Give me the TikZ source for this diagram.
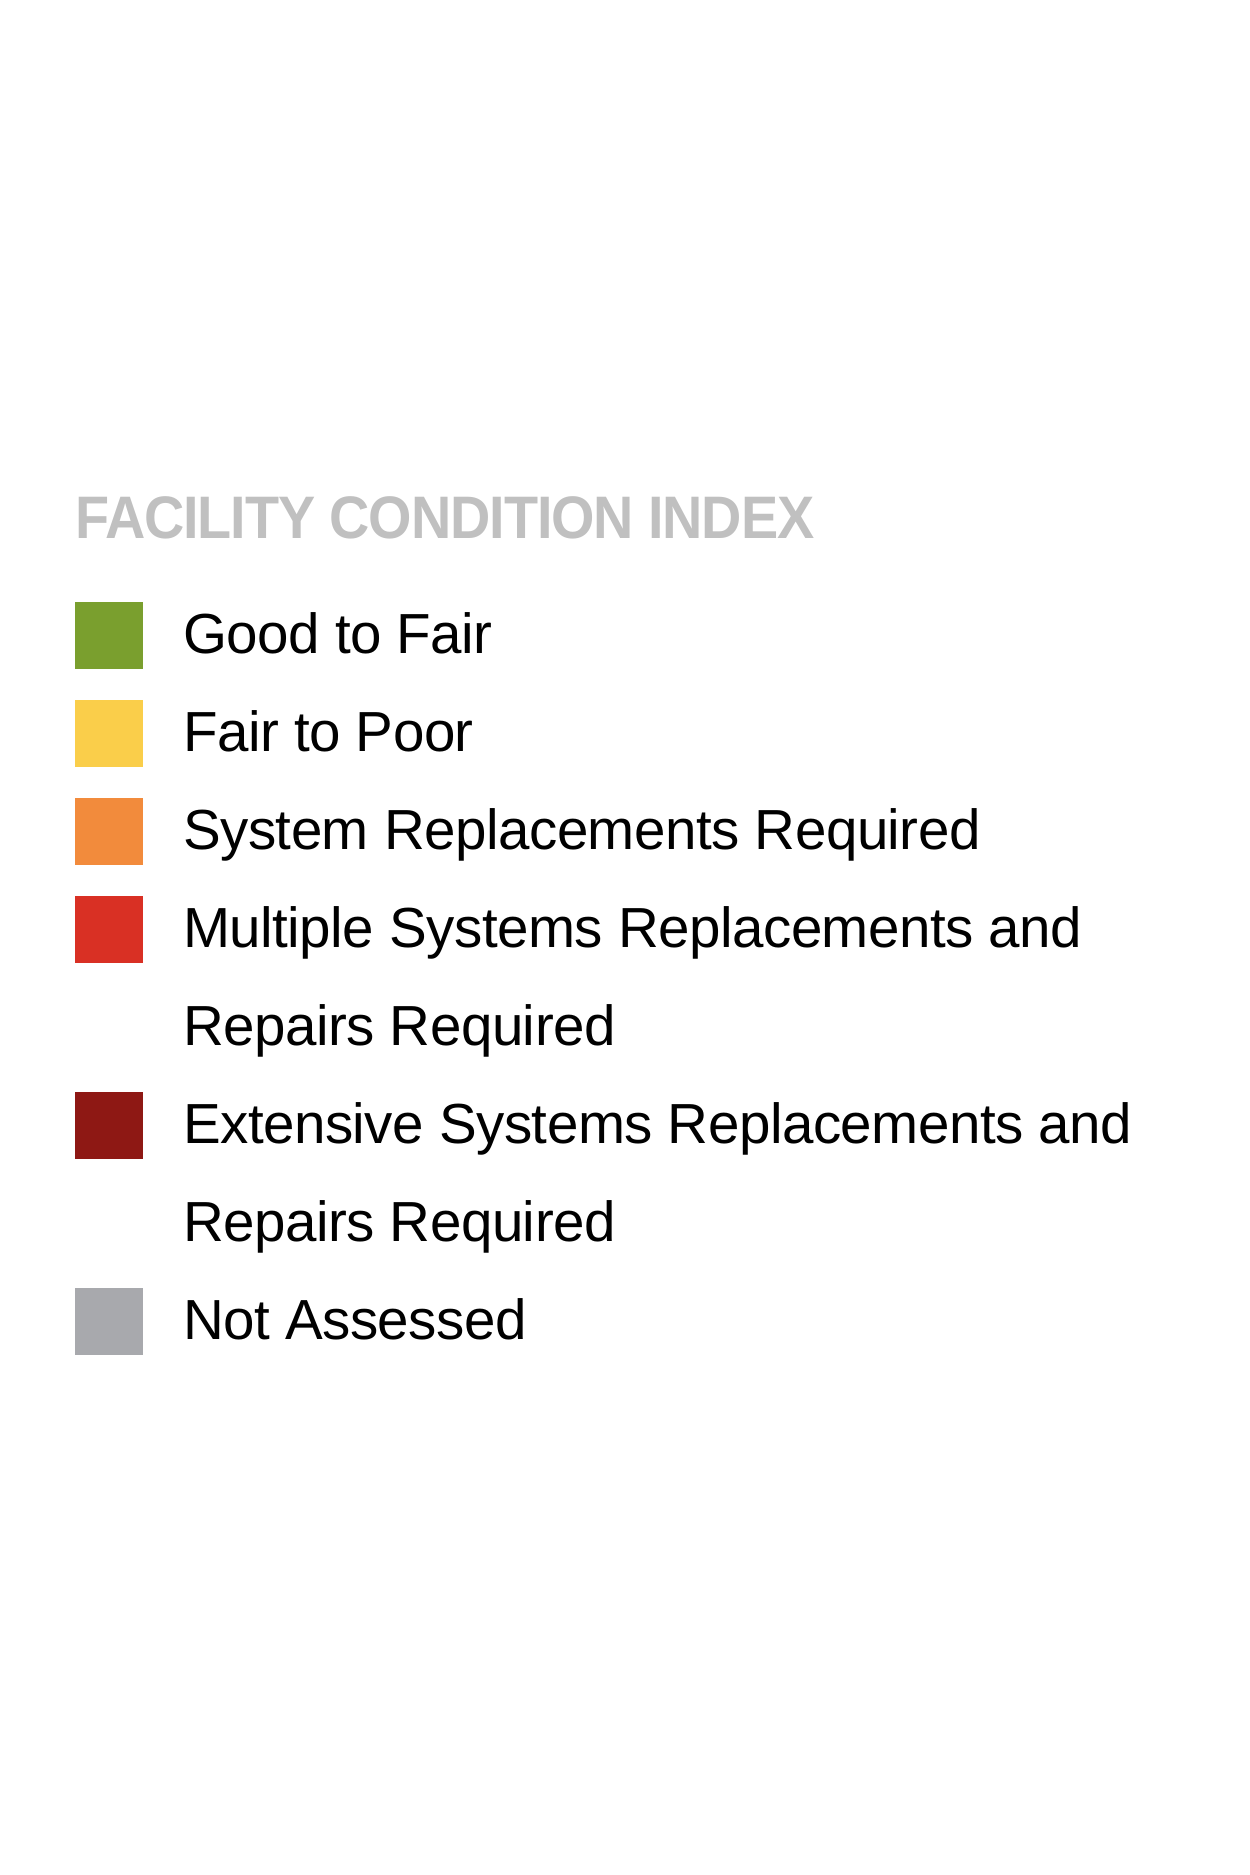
\documentclass[tikz,border=0pt]{standalone}
\usepackage{fontspec}
\setmainfont{Liberation Sans}
\newfontfamily\bodyfont[LetterSpace=-0.9]{Liberation Sans}
\newfontfamily\headfont[LetterSpace=-2.0]{Liberation Sans Bold}
\definecolor{cgreen}{RGB}{122,159,46}
\definecolor{cyellow}{RGB}{250,206,74}
\definecolor{corange}{RGB}{242,139,60}
\definecolor{cred}{RGB}{217,48,36}
\definecolor{cdark}{RGB}{142,24,20}
\definecolor{cgray}{RGB}{168,169,173}
\definecolor{ctitle}{RGB}{192,192,192}
\begin{document}
\begin{tikzpicture}[x=1pt,y=1pt,
  swatch/.style={draw=none,fill=#1,minimum width=68pt,minimum height=67pt,inner sep=0pt,anchor=north west},
  label/.style={inner sep=0pt,anchor=base west,font=\bodyfont\fontsize{56.5}{68}\selectfont},
  heading/.style={inner sep=0pt,anchor=base west,text=ctitle,font=\headfont\fontsize{60}{72}\selectfont}]
\useasboundingbox (0,0) rectangle (1250,1875);
\node[heading] (title) at (75,1875-539) {\scalebox{0.93}[1]{FACILITY CONDITION INDEX}};
\node[swatch=cgreen] (s1) at (75,1875-602) {};
\node[label] (t1) at (183,1875-654) {Good to Fair};
\node[swatch=cyellow] (s2) at (75,1875-700) {};
\node[label] (t2) at (183,1875-752) {Fair to Poor};
\node[swatch=corange] (s3) at (75,1875-798) {};
\node[label] (t3) at (183,1875-850) {System Replacements Required};
\node[swatch=cred] (s4) at (75,1875-896) {};
\node[label] (t4) at (183,1875-948) {Multiple Systems Replacements and};
\node[label] (t4b) at (183,1875-1046) {Repairs Required};
\node[swatch=cdark] (s5) at (75,1875-1092) {};
\node[label] (t5) at (183,1875-1144) {Extensive Systems Replacements and};
\node[label] (t5b) at (183,1875-1242) {Repairs Required};
\node[swatch=cgray] (s6) at (75,1875-1288) {};
\node[label] (t6) at (183,1875-1340) {Not Assessed};
\end{tikzpicture}
\end{document}
